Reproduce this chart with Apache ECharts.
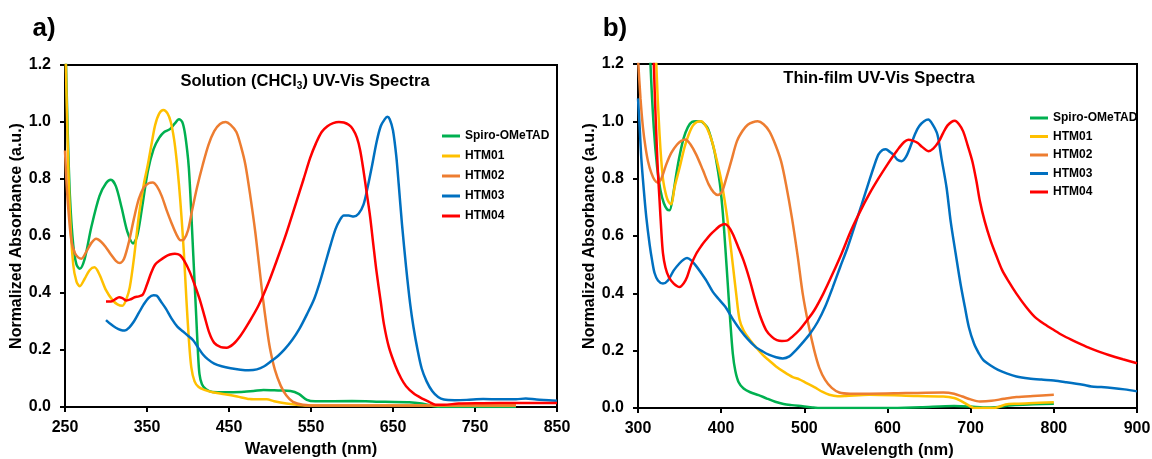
<!DOCTYPE html>
<html>
<head>
<meta charset="utf-8">
<script src="https://cdn.jsdelivr.net/npm/echarts@6/dist/echarts.min.js"></script>
<style>
  html, body { margin: 0; padding: 0; background: #fff; }
  #chart { width: 1152px; height: 459px; }
</style>
</head>
<body>
<div id="chart"></div>
<script>
// series names + colours
var names = ["Spiro-OMeTAD", "HTM01", "HTM02", "HTM03", "HTM04"];
var colors = ["#00b050", "#ffc000", "#ed7d31", "#0070c0", "#ff0000"];

// tick labels
var solTicks = [250, 350, 450, 550, 650, 750, 850];
var filmTicks = [300, 400, 500, 600, 700, 800, 900];
var absTicks = [0, 0.2, 0.4, 0.6, 0.8, 1.0, 1.2];

// a) solution spectra  [wavelength nm, normalized absorbance]
var solSpiro = [[250,1.35],[253,1.0],[256,0.74],[260,0.57],[264,0.5],[268,0.485],[274,0.52],[282,0.63],[292,0.74],[300,0.785],[306,0.797],[312,0.775],[319,0.7],[326,0.615],[333,0.574],[338,0.6],[344,0.7],[351,0.827],[358,0.905],[365,0.945],[371,0.965],[378,0.975],[384,0.995],[389,1.01],[393,1.0],[396,0.965],[399,0.9],[401,0.84],[403,0.74],[405,0.62],[408,0.44],[410,0.32],[412,0.2],[414,0.115],[417,0.08],[422,0.062],[430,0.053],[445,0.052],[465,0.053],[480,0.056],[492,0.06],[510,0.058],[525,0.056],[535,0.046],[545,0.025],[555,0.02],[600,0.021],[640,0.018],[670,0.017],[685,0.012],[700,0.003],[715,0],[800,0]];
var solHtm01 = [[250,1.35],[253,0.95],[256,0.68],[260,0.5],[264,0.44],[268,0.424],[274,0.45],[280,0.48],[286,0.49],[292,0.465],[300,0.41],[308,0.375],[314,0.36],[320,0.355],[325,0.38],[329,0.42],[334,0.52],[340,0.67],[346,0.78],[351,0.85],[356,0.93],[360,0.99],[365,1.03],[370,1.042],[375,1.03],[379,1.0],[383,0.94],[386,0.87],[389,0.78],[392,0.67],[395,0.54],[398,0.38],[401,0.24],[404,0.14],[408,0.09],[413,0.07],[420,0.06],[430,0.052],[445,0.045],[460,0.037],[475,0.028],[488,0.027],[496,0.027],[505,0.02],[520,0.012],[535,0.007],[550,0.005],[800,0.005]];
var solHtm02 = [[250,0.9],[252,0.78],[255,0.66],[258,0.58],[262,0.54],[266,0.525],[270,0.52],[276,0.545],[282,0.575],[288,0.59],[294,0.58],[300,0.56],[306,0.535],[312,0.513],[317,0.505],[322,0.52],[328,0.58],[334,0.66],[340,0.73],[346,0.77],[352,0.785],[357,0.788],[362,0.775],[368,0.74],[374,0.69],[380,0.645],[386,0.605],[391,0.585],[395,0.588],[400,0.62],[405,0.69],[411,0.77],[418,0.85],[425,0.92],[432,0.968],[439,0.993],[446,1.0],[452,0.99],[459,0.965],[465,0.91],[470,0.85],[476,0.74],[482,0.615],[487,0.49],[491,0.39],[496,0.28],[500,0.205],[506,0.13],[513,0.075],[520,0.04],[528,0.018],[540,0.008],[560,0.005],[800,0.005]];
var solHtm03 = [[300,0.305],[306,0.29],[312,0.278],[318,0.27],[323,0.268],[328,0.278],[334,0.3],[340,0.33],[346,0.36],[352,0.383],[358,0.392],[362,0.39],[367,0.37],[373,0.345],[380,0.31],[387,0.282],[394,0.265],[400,0.25],[406,0.235],[412,0.21],[418,0.185],[424,0.168],[432,0.152],[441,0.143],[452,0.136],[464,0.131],[474,0.129],[484,0.132],[493,0.143],[502,0.162],[510,0.18],[518,0.203],[527,0.235],[536,0.275],[545,0.325],[554,0.38],[561,0.44],[567,0.5],[574,0.57],[580,0.625],[585,0.655],[590,0.672],[596,0.672],[602,0.668],[608,0.678],[614,0.71],[619,0.77],[624,0.84],[630,0.93],[635,0.985],[640,1.01],[643,1.018],[646,1.01],[650,0.97],[654,0.88],[657,0.78],[661,0.64],[666,0.49],[671,0.36],[675,0.28],[680,0.2],[685,0.135],[691,0.09],[698,0.055],[705,0.035],[712,0.026],[725,0.024],[740,0.025],[760,0.028],[780,0.027],[800,0.027],[812,0.03],[825,0.026],[840,0.024],[850,0.022]];
var solHtm04 = [[300,0.37],[306,0.37],[311,0.378],[316,0.385],[320,0.382],[325,0.374],[330,0.378],[335,0.385],[340,0.388],[345,0.395],[350,0.43],[355,0.47],[360,0.5],[366,0.515],[372,0.527],[378,0.535],[384,0.538],[390,0.533],[396,0.51],[402,0.475],[408,0.43],[414,0.38],[420,0.32],[426,0.26],[432,0.225],[440,0.21],[447,0.208],[455,0.22],[464,0.25],[474,0.295],[486,0.356],[498,0.435],[509,0.52],[520,0.61],[531,0.709],[541,0.8],[549,0.874],[556,0.925],[563,0.965],[570,0.985],[577,0.996],[584,1.0],[590,0.998],[596,0.99],[601,0.975],[606,0.945],[610,0.9],[614,0.83],[618,0.75],[622,0.67],[626,0.57],[630,0.473],[635,0.37],[639,0.29],[645,0.21],[653,0.144],[660,0.1],[666,0.073],[675,0.048],[684,0.032],[694,0.018],[702,0.008],[712,0.008],[730,0.012],[760,0.013],[800,0.014],[850,0.014]];

// b) thin-film spectra
var filmSpiro = [[310,1.6],[315,1.2],[319,0.977],[323,0.84],[327,0.76],[331,0.715],[335,0.693],[338,0.69],[342,0.74],[346,0.815],[350,0.88],[355,0.942],[360,0.98],[365,0.998],[370,1.0],[375,1.0],[380,0.99],[384,0.975],[388,0.94],[392,0.895],[396,0.83],[399,0.77],[402,0.68],[405,0.56],[408,0.43],[411,0.3],[414,0.19],[417,0.13],[421,0.09],[427,0.068],[435,0.055],[445,0.045],[455,0.033],[465,0.022],[475,0.014],[485,0.01],[498,0.006],[510,0.002],[520,0],[600,0],[640,0.003],[680,0.007],[700,0.005],[715,0.002],[730,0.003],[750,0.01],[775,0.013],[800,0.015]];
var filmHtm01 = [[318,1.6],[322,1.2],[326,0.95],[330,0.8],[334,0.74],[337,0.718],[340,0.711],[344,0.77],[350,0.838],[356,0.91],[361,0.954],[366,0.985],[371,0.998],[376,1.0],[380,0.99],[384,0.97],[389,0.93],[394,0.873],[399,0.81],[403,0.746],[407,0.67],[410,0.6],[414,0.5],[418,0.4],[422,0.31],[427,0.27],[434,0.24],[441,0.215],[450,0.185],[458,0.165],[466,0.145],[476,0.125],[486,0.108],[494,0.1],[502,0.088],[512,0.073],[522,0.056],[530,0.046],[540,0.041],[550,0.042],[578,0.046],[622,0.043],[667,0.04],[680,0.035],[687,0.027],[693,0.017],[700,0.005],[704,0],[728,0],[735,0.005],[742,0.012],[755,0.015],[770,0.017],[800,0.02]];
var filmHtm02 = [[300,1.22],[303,1.08],[306,0.977],[309,0.91],[312,0.861],[316,0.82],[320,0.795],[324,0.786],[328,0.8],[334,0.85],[340,0.89],[347,0.919],[352,0.932],[357,0.937],[363,0.92],[370,0.884],[378,0.83],[385,0.78],[391,0.752],[396,0.743],[401,0.755],[405,0.79],[412,0.86],[419,0.931],[426,0.968],[432,0.988],[438,0.997],[444,1.0],[451,0.99],[458,0.965],[465,0.92],[472,0.861],[478,0.78],[485,0.665],[492,0.53],[498,0.4],[505,0.29],[512,0.2],[518,0.14],[525,0.098],[533,0.07],[542,0.054],[555,0.05],[578,0.05],[622,0.052],[667,0.054],[680,0.05],[690,0.04],[700,0.03],[711,0.023],[725,0.025],[740,0.032],[755,0.038],[775,0.042],[800,0.046]];
var filmHtm03 = [[300,1.08],[302,0.98],[304,0.87],[307,0.76],[310,0.665],[314,0.57],[317,0.514],[320,0.47],[324,0.445],[330,0.434],[336,0.445],[343,0.48],[350,0.505],[355,0.518],[359,0.523],[364,0.515],[370,0.495],[375,0.475],[382,0.445],[390,0.405],[397,0.38],[405,0.353],[414,0.31],[423,0.272],[432,0.24],[441,0.214],[450,0.197],[458,0.185],[466,0.177],[474,0.173],[482,0.18],[490,0.202],[498,0.228],[507,0.26],[516,0.3],[525,0.353],[534,0.42],[543,0.491],[552,0.56],[560,0.63],[569,0.71],[578,0.792],[584,0.845],[589,0.884],[594,0.9],[598,0.903],[603,0.893],[607,0.884],[612,0.866],[617,0.861],[622,0.875],[627,0.908],[633,0.955],[638,0.983],[644,1.0],[649,1.006],[654,0.99],[660,0.954],[665,0.87],[671,0.769],[676,0.65],[682,0.538],[688,0.43],[693,0.353],[698,0.28],[704,0.225],[710,0.19],[715,0.168],[724,0.148],[733,0.133],[744,0.12],[755,0.11],[770,0.103],[785,0.099],[800,0.096],[815,0.09],[835,0.081],[845,0.075],[857,0.073],[870,0.07],[885,0.065],[900,0.058]];
var filmHtm04 = [[316,1.6],[319,1.2],[322,0.954],[324,0.82],[326,0.72],[328,0.62],[330,0.54],[333,0.49],[337,0.457],[343,0.434],[350,0.422],[355,0.435],[359,0.457],[364,0.5],[370,0.538],[376,0.565],[381,0.584],[387,0.605],[394,0.624],[399,0.636],[404,0.642],[409,0.632],[414,0.607],[420,0.565],[427,0.514],[434,0.45],[441,0.376],[447,0.32],[454,0.272],[461,0.248],[467,0.237],[473,0.234],[479,0.235],[486,0.25],[494,0.272],[503,0.305],[512,0.341],[523,0.4],[534,0.468],[545,0.54],[556,0.618],[567,0.685],[578,0.746],[589,0.8],[600,0.85],[607,0.88],[614,0.908],[620,0.928],[625,0.936],[631,0.932],[636,0.925],[642,0.91],[649,0.896],[655,0.905],[662,0.931],[667,0.96],[672,0.985],[677,0.998],[681,1.002],[686,0.99],[691,0.965],[696,0.92],[702,0.861],[707,0.79],[711,0.723],[717,0.65],[724,0.584],[731,0.53],[738,0.48],[746,0.44],[755,0.399],[766,0.355],[777,0.318],[789,0.292],[800,0.272],[811,0.253],[822,0.237],[833,0.222],[844,0.208],[855,0.196],[866,0.185],[883,0.17],[900,0.156]];

var solData = [solSpiro, solHtm01, solHtm02, solHtm03, solHtm04];
var filmData = [filmSpiro, filmHtm01, filmHtm02, filmHtm03, filmHtm04];

var FONT = "'Liberation Sans', Arial, sans-serif";

function xAxisFor(idx, ticks) {
  return {
    type: "value",
    gridIndex: idx,
    min: ticks[0],
    max: ticks[ticks.length - 1],
    name: "Wavelength (nm)",
    nameLocation: "middle",
    nameGap: 34,
    nameMoveOverlap: false,
    nameTextStyle: { fontFamily: FONT, fontSize: 16.5, fontWeight: "bold", color: "#000" },
    axisLine: { onZero: false, lineStyle: { color: "#000", width: 2 } },
    axisTick: { show: true, length: 5, lineStyle: { color: "#000", width: 2 }, customValues: ticks },
    axisLabel: { fontFamily: FONT, fontSize: 16, fontWeight: "bold", color: "#000", margin: 13, customValues: ticks },
    splitLine: { show: false },
  };
}

function yAxisFor(idx) {
  return {
    type: "value",
    gridIndex: idx,
    min: absTicks[0],
    max: absTicks[absTicks.length - 1],
    interval: 0.2,
    name: "Normalized Absorbance (a.u.)",
    nameLocation: "middle",
    nameGap: 40,
    nameMoveOverlap: false,
    nameTextStyle: { fontFamily: FONT, fontSize: 16, fontWeight: "bold", color: "#000" },
    axisLine: { onZero: false, lineStyle: { color: "#000", width: 2 } },
    axisTick: { show: true, length: 5, lineStyle: { color: "#000", width: 2 } },
    axisLabel: {
      fontFamily: FONT, fontSize: 16, fontWeight: "bold", color: "#000", margin: 14,
      formatter: function (v) { return v.toFixed(1); },
    },
    splitLine: { show: false },
  };
}

var series = [];
names.forEach(function (n, i) {
  series.push({
    name: n, type: "line", xAxisIndex: 0, yAxisIndex: 0,
    data: solData[i], showSymbol: false, smooth: 0.3, clip: true,
    lineStyle: { width: 2.5, color: colors[i] }, itemStyle: { color: colors[i] },
  });
});
names.forEach(function (n, i) {
  series.push({
    name: n, type: "line", xAxisIndex: 1, yAxisIndex: 1,
    data: filmData[i], showSymbol: false, smooth: 0.3, clip: true,
    lineStyle: { width: 2.5, color: colors[i] }, itemStyle: { color: colors[i] },
  });
});

var legendBase = {
  orient: "vertical",
  icon: "rect",
  itemWidth: 18,
  itemHeight: 3,
  data: names,
  textStyle: { fontFamily: FONT, fontSize: 12, fontWeight: "bold", color: "#000" },
};

var titleRich = {
  t: { fontFamily: FONT, fontSize: 16.5, fontWeight: "bold", color: "#000", lineHeight: 20 },
  s: { fontFamily: FONT, fontSize: 10, fontWeight: "bold", color: "#000", lineHeight: 11, verticalAlign: "bottom" },
};

var option = {
  animation: false,
  backgroundColor: "#fff",
  grid: [
    { left: 65, top: 65, width: 492, height: 342, show: true, borderColor: "#000", borderWidth: 2, outerBoundsMode: "none" },
    { left: 638, top: 64, width: 499, height: 344, show: true, borderColor: "#000", borderWidth: 2, outerBoundsMode: "none" },
  ],
  xAxis: [xAxisFor(0, solTicks), xAxisFor(1, filmTicks)],
  yAxis: [yAxisFor(0), yAxisFor(1)],
  legend: [
    Object.assign({}, legendBase, { left: 437, top: 125, itemGap: 8 }),
    Object.assign({}, legendBase, { left: 1025, top: 107, itemGap: 6.5 }),
  ],
  graphic: [
    { type: "text", x: 44, y: 29, style: { text: "a)", font: "bold 26px " + FONT, fill: "#000", align: "center", verticalAlign: "middle" } },
    { type: "text", x: 615, y: 29, style: { text: "b)", font: "bold 26px " + FONT, fill: "#000", align: "center", verticalAlign: "middle" } },
    { type: "text", x: 305, y: 81, style: { text: "{t|Solution (CHCl}{s|3}{t|) UV-Vis Spectra}", rich: titleRich, align: "center", verticalAlign: "middle" } },
    { type: "text", x: 879, y: 78, style: { text: "{t|Thin-film UV-Vis Spectra}", rich: titleRich, align: "center", verticalAlign: "middle" } },
  ],
  series: series,
};

var chart = echarts.init(document.getElementById("chart"));
chart.setOption(option);
</script>
</body>
</html>
